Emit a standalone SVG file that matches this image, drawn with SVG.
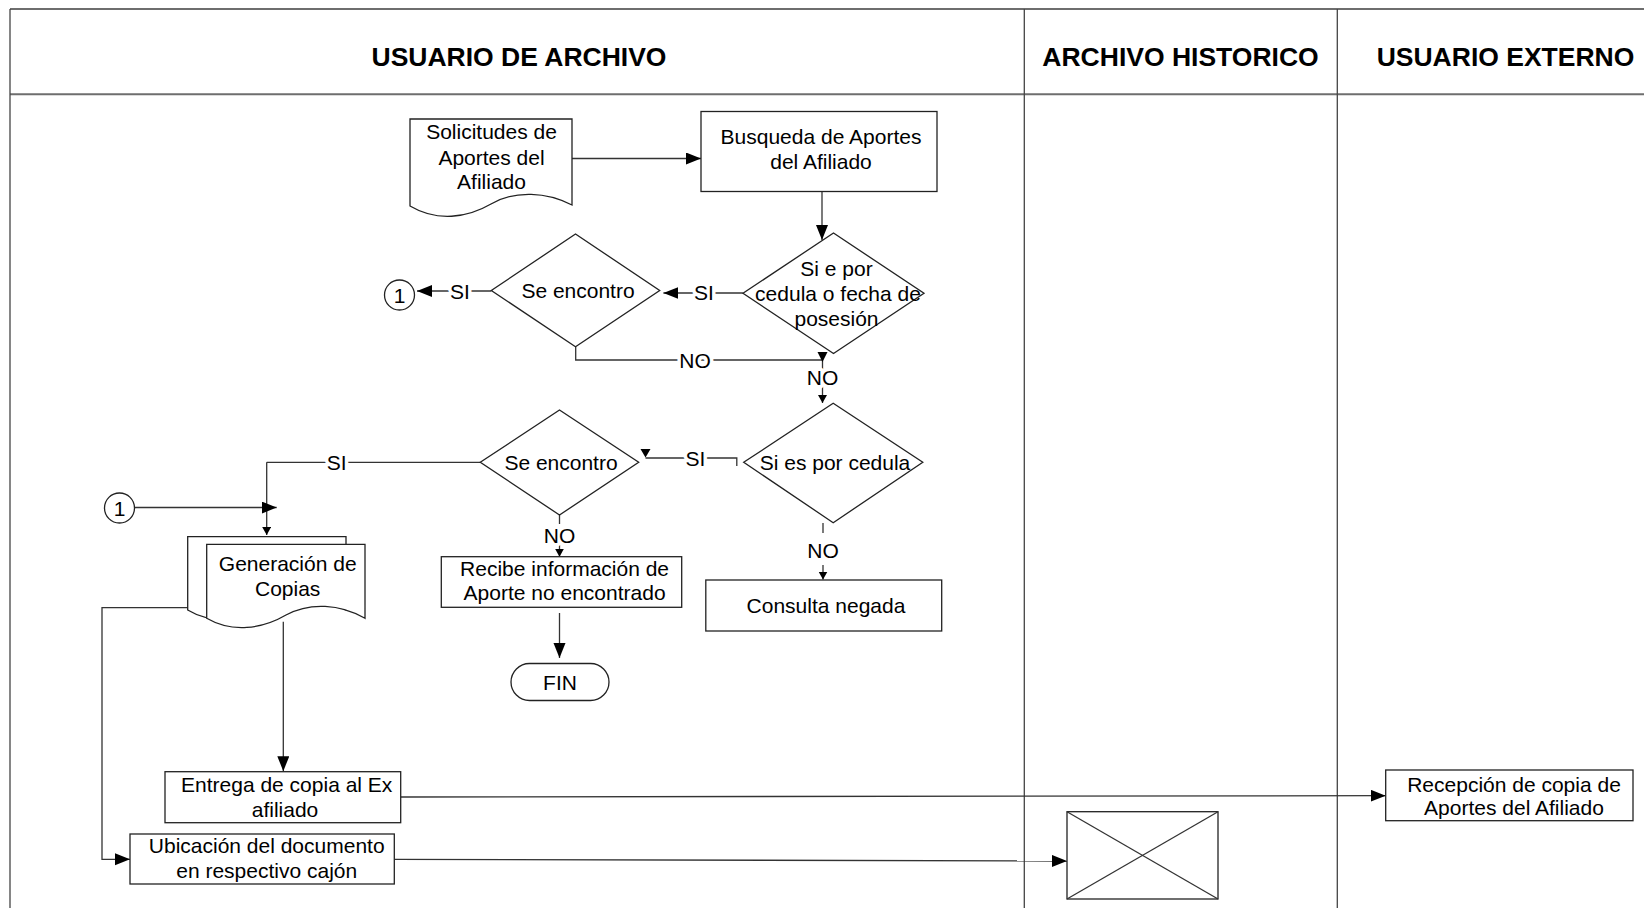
<svg xmlns="http://www.w3.org/2000/svg" width="1644" height="908" viewBox="0 0 1644 908">
<defs>
<style>
.frame{stroke:#6e6e6e;stroke-width:2;fill:none}
.div{stroke:#444;stroke-width:1.3;fill:none}
.hdr{font-family:"Liberation Sans",Arial,sans-serif;font-weight:bold;font-size:26.5px;fill:#000;text-anchor:middle}
.shape{fill:#fff;stroke:#222;stroke-width:1.3}
.t{font-family:"Liberation Sans",Arial,sans-serif;font-size:21px;fill:#000;text-anchor:middle}
.lbl{font-family:"Liberation Sans",Arial,sans-serif;font-size:21px;fill:#000;text-anchor:middle;paint-order:stroke;stroke:#fff;stroke-width:7px;stroke-linejoin:round}
.c{fill:none;stroke:#333;stroke-width:1.3}
.cb{fill:none;stroke:#333;stroke-width:1.3;marker-end:url(#ab)}
.cs{fill:none;stroke:#333;stroke-width:1.3;marker-end:url(#as)}
.ah{fill:#000;stroke:none}
</style>
<marker id="ab" markerUnits="userSpaceOnUse" markerWidth="16" markerHeight="13" refX="15" refY="6" orient="auto"><path d="M0,0 L15,6 L0,12 z" fill="#000"/></marker>
<marker id="as" markerUnits="userSpaceOnUse" markerWidth="10" markerHeight="10" refX="8" refY="4.5" orient="auto"><path d="M0,0 L8,4.5 L0,9 z" fill="#000"/></marker>
</defs>
<rect width="1644" height="908" fill="#fff"/>

<g id="lanes">
<line class="frame" x1="10" y1="9" x2="1644" y2="9"/>
<line class="frame" x1="10" y1="94.3" x2="1644" y2="94.3"/>
<line class="div" x1="10" y1="9" x2="10" y2="908"/>
<line class="div" x1="1024.3" y1="9" x2="1024.3" y2="908"/>
<line class="div" x1="1337.3" y1="9" x2="1337.3" y2="908"/>
<text class="hdr" x="519" y="66">USUARIO DE ARCHIVO</text>
<text class="hdr" x="1180.5" y="66">ARCHIVO HISTORICO</text>
<text class="hdr" x="1505.5" y="66">USUARIO EXTERNO</text>
</g>

<g id="connectors">
<path class="cb" d="M568,158.5 H701"/>
<path class="cb" d="M822,191 V240"/>
<path class="cb" d="M742.9,293 H663.4"/>
<text class="lbl" x="704" y="300">SI</text>
<path class="cb" d="M491.3,291 H417"/>
<text class="lbl" x="460" y="299">SI</text>
<path class="c" d="M575.7,346.7 V360 H822.5"/>
<text class="lbl" x="695" y="367.5">NO</text>
<path class="c" d="M822.5,353 V362"/>
<polygon class="ah" points="817.5,352 827.5,352 822.5,362"/>
<path class="cs" d="M822.5,362 V403"/>
<text class="lbl" x="822.5" y="384.5">NO</text>
<path class="c" d="M736.8,466 V458 H645.5"/>
<polygon class="ah" points="640.5,449 650.5,449 645.5,457.5"/>
<text class="lbl" x="695.5" y="465.5">SI</text>
<path class="c" d="M480.3,462.3 H266.7"/>
<path class="cs" d="M266.7,462.3 V535"/>
<text class="lbl" x="336.7" y="469.5">SI</text>
<path class="cb" d="M135,507.5 H276.7"/>
<path class="c" d="M559.5,515 V524"/>
<path class="cs" d="M559.5,545 V556.7"/>
<text class="lbl" x="559.5" y="542.5">NO</text>
<path class="cb" d="M559.5,613 V658"/>
<path class="c" d="M823,523 V533"/>
<path class="cs" d="M823,565 V579.5"/>
<text class="lbl" x="823" y="557.5">NO</text>
<path class="cb" d="M283.3,621.7 V771.2"/>
<path class="cb" d="M187.7,607.7 H102 V859.3 H130"/>
<path class="cb" d="M400.7,797 L1385.7,795.7"/>
<path class="cb" d="M394.3,859.3 L1067,861"/>
</g>

<g id="n-solicitudes">
<path class="shape" d="M410,119 H572 V205 C547,192 515,190 491,204 C467,218 437,222 410,206 Z"/>
<text class="t" x="491.5" y="139">Solicitudes de</text>
<text class="t" x="491.5" y="165">Aportes del</text>
<text class="t" x="491.5" y="189">Afiliado</text>
</g>

<g id="n-busqueda">
<rect class="shape" x="701" y="111.5" width="236" height="80"/>
<text class="t" x="821" y="144">Busqueda de Aportes</text>
<text class="t" x="821" y="169">del Afiliado</text>
</g>

<g id="n-decision-cedula-fecha">
<polygon class="shape" points="833.5,233 924,293.3 833.5,353.5 743,293.3" style="fill:none"/>
<text class="t" x="836.5" y="275.5">Si e por</text>
<text class="t" x="838" y="300.5">cedula o fecha de</text>
<text class="t" x="836.5" y="326">posesión</text>
</g>

<g id="n-encontro-1">
<polygon class="shape" points="575.5,234 659.7,290.5 575.5,346.7 491.3,290.5"/>
<text class="t" x="578" y="297.5">Se encontro</text>
</g>

<g id="n-conector-1a">
<circle class="shape" cx="399.5" cy="295" r="15"/>
<text class="t" x="399.5" y="302.5">1</text>
</g>

<g id="n-decision-cedula">
<polygon class="shape" points="833.2,403.3 922.8,462.3 833.2,522.7 743.7,462.3"/>
<text class="t" x="835" y="469.5">Si es por cedula</text>
</g>

<g id="n-encontro-2">
<polygon class="shape" points="559.5,410 638.7,462.3 559.5,515 480.3,462.3"/>
<text class="t" x="561" y="469.5">Se encontro</text>
</g>

<g id="n-conector-1b">
<circle class="shape" cx="119.5" cy="508" r="15"/>
<text class="t" x="119.5" y="515.5">1</text>
</g>

<g id="n-generacion">
<path class="shape" d="M187.7,536.7 H346 V610 C321,597 291,595 267,608 C243,622 211,624 187.7,610 Z"/>
<path class="shape" d="M206.7,544.3 H365 V618.3 C340,604 310,602 286,615 C262,629 232,633 206.7,618.3 Z"/>
<text class="t" x="287.7" y="570.5">Generación de</text>
<text class="t" x="287.7" y="595.5">Copias</text>
</g>

<g id="n-recibe">
<rect class="shape" x="441.3" y="556.7" width="240.4" height="50.6"/>
<text class="t" x="564.6" y="576">Recibe información de</text>
<text class="t" x="564.6" y="600">Aporte no encontrado</text>
</g>

<g id="n-consulta">
<rect class="shape" x="705.8" y="580" width="235.9" height="51"/>
<text class="t" x="826" y="612.5">Consulta negada</text>
</g>

<g id="n-fin">
<rect class="shape" x="511" y="663.5" width="98" height="37" rx="18.5" ry="18.5"/>
<text class="t" x="560" y="689.5">FIN</text>
</g>

<g id="n-entrega">
<rect class="shape" x="165" y="771.7" width="235.7" height="51"/>
<text class="t" x="286.7" y="792">Entrega de copia al Ex</text>
<text class="t" x="285" y="817">afiliado</text>
</g>

<g id="n-ubicacion">
<rect class="shape" x="130" y="834" width="264.3" height="50"/>
<text class="t" x="266.7" y="853">Ubicación del documento</text>
<text class="t" x="266.7" y="878">en respectivo cajón</text>
</g>

<g id="n-archivo">
<rect class="shape" x="1067" y="811.7" width="151" height="87.3"/>
<line class="c" x1="1067" y1="811.7" x2="1218" y2="899"/>
<line class="c" x1="1218" y1="811.7" x2="1067" y2="899"/>
</g>

<g id="n-recepcion">
<rect class="shape" x="1385.7" y="770" width="247.3" height="50.7"/>
<text class="t" x="1514" y="792">Recepción de copia de</text>
<text class="t" x="1514" y="815">Aportes del Afiliado</text>
</g>
</svg>
